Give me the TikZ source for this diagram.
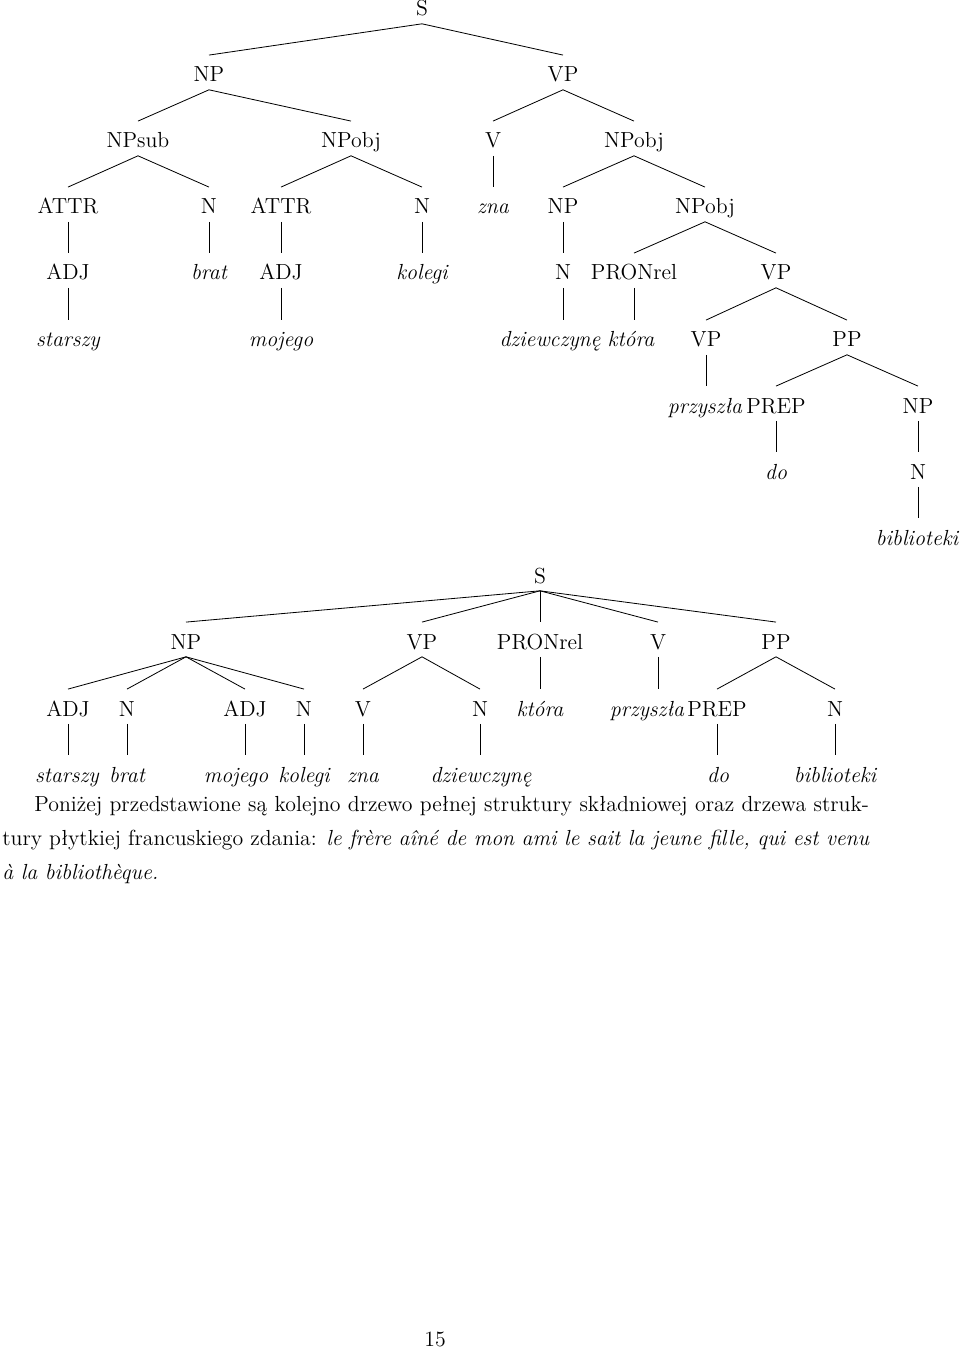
\documentclass[tikz,border=0pt]{standalone}
\usepackage{fontspec}
\begin{document}
\begin{tikzpicture}[x=0.55pt,y=-0.55pt,
  lab/.style={anchor=base,inner sep=0pt,text height=14.6pt,text depth=4.1pt,font=\fontsize{12}{14.5}\selectfont},
  word/.style={lab,font=\fontsize{12}{14.5}\selectfont\itshape},
  txt/.style={anchor=base west,inner sep=0pt,font=\fontsize{12}{14.5}\selectfont},
  edge/.style={line width=0.45pt}]
\useasboundingbox (0,0) rectangle (960,1358);
% ---------------- Tree 1 ----------------
\node[lab] (S) at (422,16) {S};
\node[lab] (NP) at (209,82) {NP};
\node[lab] (VP) at (563,82) {VP};
\node[lab] (NPsub) at (138,148) {NPsub};
\node[lab] (NPobjA) at (351,148) {NPobj};
\node[lab] (V) at (493,148) {V};
\node[lab] (NPobjB) at (634,148) {NPobj};
\node[lab] (ATTRa) at (68,214) {ATTR};
\node[lab] (Na) at (209,214) {N};
\node[lab] (ATTRb) at (281,214) {ATTR};
\node[lab] (Nb) at (422,214) {N};
\node[word] (zna) at (493,214) {zna};
\node[lab] (NPc) at (563,214) {NP};
\node[lab] (NPobjC) at (705,214) {NPobj};
\node[lab] (ADJa) at (68,280) {ADJ};
\node[word] (brat) at (209,280) {brat};
\node[lab] (ADJb) at (281,280) {ADJ};
\node[word] (kolegi) at (422,280) {kolegi};
\node[lab] (Nc) at (563,280) {N};
\node[lab] (PRON) at (634,280) {PRONrel};
\node[lab] (VPa) at (776,280) {VP};
\node[word] (starszy) at (68,347) {starszy};
\node[word] (mojego) at (281,347) {mojego};
\node[word] (dziew) at (550,347) {dziewczynę};
\node[word] (ktora) at (631,347) {która};
\node[lab] (VPb) at (706,347) {VP};
\node[lab] (PP) at (847,347) {PP};
\node[word] (przyszla) at (705,413) {przyszła};
\node[lab] (PREP) at (776,413) {PREP};
\node[lab] (NPd) at (918,413) {NP};
\node[word] (do) at (776,479) {do};
\node[lab] (Nd) at (918,479) {N};
\node[word] (bibl) at (917,545) {biblioteki};
\foreach \a/\b in {S/NP,S/VP,NP/NPsub,NP/NPobjA,VP/V,VP/NPobjB,
  NPsub/ATTRa,NPsub/Na,NPobjA/ATTRb,NPobjA/Nb,NPobjB/NPc,NPobjB/NPobjC,
  NPobjC/PRON,NPobjC/VPa,VPa/VPb,VPa/PP,PP/PREP,PP/NPd}
  \draw[edge] (\a.south) -- (\b.north);
\foreach \a/\b in {V/zna,ATTRa/ADJa,Na/brat,ATTRb/ADJb,Nb/kolegi,NPc/Nc,Nc/dziew,
  ADJa/starszy,ADJb/mojego,PRON/ktora,VPb/przyszla,PREP/do,NPd/Nd,Nd/bibl}
  \draw[edge] (\a.south) -- (\a.south |- \b.north);
% ---------------- Tree 2 ----------------
\node[lab] (S2) at (540,583) {S};
\node[lab] (NP2) at (186,649) {NP};
\node[lab] (VP2) at (422,649) {VP};
\node[lab] (PRON2) at (540,649) {PRONrel};
\node[lab] (V2) at (658,649) {V};
\node[lab] (PP2) at (776,649) {PP};
\node[lab] (ADJ2a) at (68,716) {ADJ};
\node[lab] (N2a) at (127,716) {N};
\node[lab] (ADJ2b) at (245,716) {ADJ};
\node[lab] (N2b) at (304,716) {N};
\node[lab] (V2b) at (363,716) {V};
\node[lab] (N2c) at (480,716) {N};
\node[word] (ktora2) at (540,716) {która};
\node[word] (przyszla2) at (647,716) {przyszła};
\node[lab] (PREP2) at (717,716) {PREP};
\node[lab] (N2d) at (835,716) {N};
\node[word] (starszy2) at (67,782) {starszy};
\node[word] (brat2) at (127,782) {brat};
\node[word] (mojego2) at (236,782) {mojego};
\node[word] (kolegi2) at (304,782) {kolegi};
\node[word] (zna2) at (363,782) {zna};
\node[word] (dziew2) at (481,782) {dziewczynę};
\node[word] (do2) at (718,782) {do};
\node[word] (bibl2) at (835,782) {biblioteki};
\foreach \a/\b in {S2/NP2,S2/VP2,S2/PRON2,S2/V2,S2/PP2,
  NP2/ADJ2a,NP2/N2a,NP2/ADJ2b,NP2/N2b,VP2/V2b,VP2/N2c,PP2/PREP2,PP2/N2d}
  \draw[edge] (\a.south) -- (\b.north);
\foreach \a/\b in {PRON2/ktora2,V2/przyszla2,ADJ2a/starszy2,N2a/brat2,ADJ2b/mojego2,
  N2b/kolegi2,V2b/zna2,N2c/dziew2,PREP2/do2,N2d/bibl2}
  \draw[edge] (\a.south) -- (\a.south |- \b.north);
% ---------------- Caption ----------------
\node[txt] (l1) at (34,811) {\makebox[459pt][s]{Poniżej przedstawione są kolejno drzewo pełnej struktury składniowej oraz drzewa struk-}};
\node[txt] (l2) at (2,845) {\makebox[477pt][s]{tury płytkiej francuskiego zdania: \textit{le frère aîné de mon ami le sait la jeune fille, qui est venu}}};
\node[txt] (l3) at (2,879) {\textit{à la bibliothèque.}};
\node[lab] (page) at (435,1346) {15};
\end{tikzpicture}
\end{document}
